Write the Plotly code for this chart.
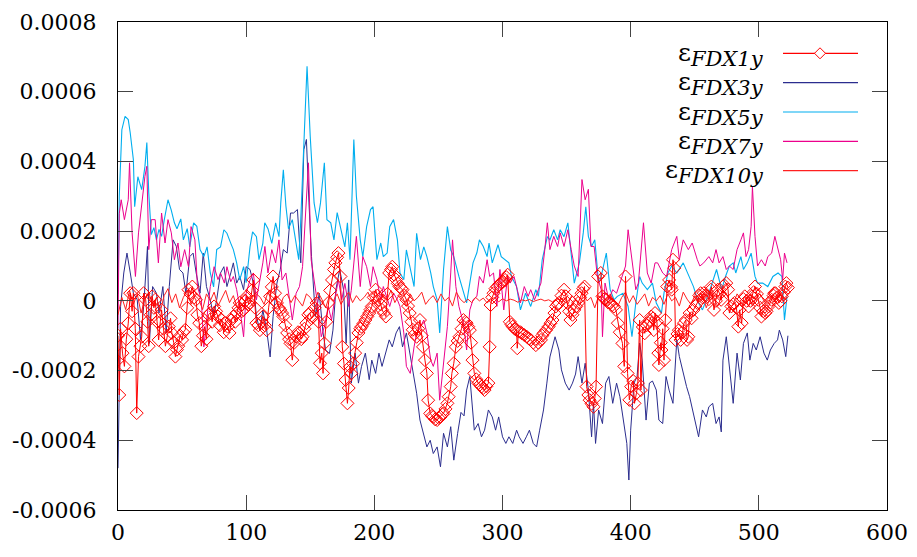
import plotly.graph_objects as go

# values in units of 1e-6 (x, strain*1e6)
FDX1Y = [(0,-100),(1,-270),(2,-80),(3.5,-150),(5,-188),(6.5,-110),(8,-64),(9.5,22),(11,-30),(12,22),(13.5,-80),(14.6,-322),
(16,-160),(17.5,-130),(18.5,-103),(20,22),(21.6,3),(23,-60),(24,-130),(25.5,-40),(26.7,13),(28,-20),(29,3),(30.5,-60),
(31.7,-112),(33,-60),(34,-26),(35.5,-80),(37,-130),(38.5,-100),(39.7,-74),(41,-50),(42,-92),(43.5,-120),(44.8,-160),
(46,-140),(47,-130),(48.5,-100),(50,-112),(51,-90),(52.5,-83),(54,-20),(55,32),(56.5,20),(58,41),(59.5,10),(60.8,3),
(62,-40),(63.4,-64),(65,-130),(66.3,-100),(67.6,-74),(69,-110),(70.5,-40),(72,-35),(73.5,-60),(75,-16),(76.5,-30),
(78,-45),(79.5,-70),(81,-55),(82.5,-90),(84,-64),(85.5,-74),(87,-92),(88.5,-55),(90,-45),(91.5,-60),(92.6,-35),(94,-20),
(95,-6),(96.5,-30),(98,-26),(99.5,0),(100.5,13),(102,-10),(103,-6),(104.5,30),(105.6,60),(107,-20),(108,-64),(109.5,-70),
(110.7,-84),(112,-60),(113,-45),(114.5,-70),(116,-84),(117.5,-20),(118.7,13),(120,40),(121,70),(122.5,22),(124,-6),
(125.5,-20),(126.6,-26),(128,-35),(129,-45),(130.5,-70),(132,-92),(133.5,-110),(134.6,-122),(136,-170),(137.5,-120),
(139,-103),(140.5,-90),(141.6,-92),(143,-110),(144,-103),(145.5,-80),(147,-64),(148.5,-40),(149.6,-35),(151,-50),
(152,-45),(153.5,-20),(155,-6),(156.5,-60),(157.6,-179),(159,-150),(160,-208),(161,-122),(162.5,-60),(164,-6),
(165.5,30),(167,60),(168.5,90),(169.6,109),(171,125),(172,137),(173.6,70),(175,-132),(176.3,-180),(177.6,-227),
(179,-294),(180,-250),(181,-189),(182,-208),(183.5,-180),(185,-150),(186.3,-120),(187.6,-92),(189,-80),(190,-74),
(191.5,-65),(193,-55),(194.5,-45),(196,-35),(197,-25),(198,-16),(199.5,10),(201,32),(202.3,15),(203.6,3),(205,-10),
(206,-26),(207.5,-35),(209,-45),(210.3,20),(211.6,80),(213,90),(214,98),(215.5,75),(217,61),(218.3,50),(219.6,41),
(221,35),(222,32),(223.5,15),(225,3),(226.3,-15),(227.6,-35),(229,-60),(230,-83),(231.5,-95),(233,-103),(234.3,-80),
(235.6,-55),(237,-100),(238,-132),(239.5,-170),(241,-208),(242,-285),(243.6,-323),(245,-330),(246,-333),(247.5,-340),
(249,-342),(250.3,-336),(251.6,-333),(253,-325),(254,-323),(255.5,-310),(257,-294),(258,-275),(259.6,-246),(260.5,-208),
(262,-179),(263.6,-132),(265,-115),(266.4,-103),(268,-80),(269.5,-55),(271,-60),(272,-64),(273.3,-74),(274.5,-84),
(275.5,-120),(276.6,-170),(278,-208),(279.5,-225),(281,-236),(282.5,-240),(283.6,-246),(285,-250),(286,-256),
(287.5,-245),(289,-236),(290,-132),(290.7,-12),(292,10),(293,22),(294.5,35),(296,41),(297.5,48),(299,51),(300.5,55),
(302,60),(303,68),(304,75),(305.7,-60),(307,-68),(308,-74),(309.5,-80),(311,-84),(311.5,-136),(312.5,-88),(314,-90),
(315,-93),(317,-98),(319,-103),(320.5,-108),(322,-112),(324,-120),(326,-127),(328,-120),(330,-112),(331,-100),(332,-93),
(334,-84),(336,-74),(337.5,-64),(339,-55),(340.5,-35),(341.7,-16),(343,-10),(344,-6),(346,15),(348,32),(349.5,13),
(350.6,-6),(352,-30),(353,-55),(354.6,-40),(356,-26),(357.5,-16),(359,-6),(360.5,10),(361.7,22),(363,35),(364,41),
(365.6,-246),(367,-270),(368,-285),(369.5,-295),(371,-304),(372,-280),(373,-246),(374.6,70),(376.7,80),(378,13),
(379.5,5),(381,3),(382.5,-5),(384,-6),(385.5,-12),(387,-16),(388.5,-26),(390,-64),(391.5,-90),(393.6,-122),(395,-188),
(396,70),(397.6,-208),(399,-284),(400.4,-246),(402,-230),(403,-294),(404.5,-265),(405.6,-236),(407,-55),(408,-256),
(409.5,-75),(411,-93),(412.5,-70),(413.6,-64),(415,-55),(416,-45),(417.5,-50),(418,-84),(419,-35),(420.5,-60),
(421.6,-150),(422,-184),(423.5,-120),(424,-141),(425,-80),(426,-170),(427,-55),(428.5,41),(430,60),(431.5,40),(432,32),
(433,118),(434,94),(435,-112),(436.5,-95),(437.6,-84),(439,-112),(440.5,-90),(441.6,-64),(443,-55),(444,-112),(445,-103),
(446,-35),(447.5,-50),(449,-26),(450.5,-15),(452,-6),(453.5,15),(454.6,22),(456,10),(457,22),(458.5,15),(460,13),(461,5),
(462.6,32),(463,41),(465,-26),(466.5,0),(468,32),(469.5,20),(470.6,3),(472,41),(473,45),(474.6,51),(476,32),(477,-35),
(478.6,-16),(480,-10),(481,-6),(482.5,-20),(484,-74),(485,-26),(486.6,-64),(488,5),(489,13),(490.5,0),(492,-16),
(493.5,0),(494.6,13),(496,25),(497,41),(498.5,20),(499.6,3),(501,-20),(502,-45),(503.5,-30),(505,-35),(506,-30),
(507.6,-16),(509,-5),(510,3),(511.5,15),(512,22),(513,22),(514.5,10),(515.6,-6),(517,0),(518,13),(519.5,25),
(520.7,41),(521.5,51),(522.7,38)]

FDX3Y = [(0,-480),(2,-17),(4.5,80),(7,137),(9.6,80),(12,22),(15,3),(17.6,-112),(20,-17),(23,156),(24.5,-122),(27,41),
(30,22),(32,-35),(35,41),(37.6,-92),(40,41),(43,175),(45.5,156),(48,90),(50.7,80),(53,22),(56,127),(58.6,137),(61,80),
(64,22),(66.5,137),(69,41),(72,3),(74.6,-45),(77,3),(80,80),(82.6,98),(85,41),(88,80),(90,109),(92.6,51),(95,70),
(98,32),(100,98),(103,90),(105.6,51),(108,-45),(110.7,-84),(113,-26),(116,-84),(118.7,-161),(121,-45),(124,51),
(126.6,90),(129,147),(132,137),(134.6,252),(137,252),(140,262),(142.6,109),(145,434),(147,463),(149,281),(151,127),
(154,-45),(157,22),(160,-92),(162,-141),(165,-151),(167.7,-84),(170,32),(173,90),(176,32),(178,-122),(180,60),
(182,-236),(185,-150),(187.6,-236),(190,-188),(193,-150),(196,-226),(198,-170),(201,-208),(203.6,-150),(206,-188),
(209,-150),(211.6,-112),(214,-132),(217,-92),(219.6,-74),(222,-132),(225,-92),(227.6,-150),(230,-208),(233,-265),
(235.6,-342),(238,-380),(241,-419),(243.6,-400),(246,-438),(249,-419),(251.6,-476),(254,-380),(257,-419),(259.6,-361),
(262,-457),(265,-380),(267.6,-320),(270,-330),(272,-256),(274.5,-217),(278,-371),(281,-352),(283.6,-390),(286,-371),
(289,-313),(292,-333),(294.6,-371),(297,-333),(300,-390),(302.6,-409),(305,-390),(308,-409),(311,-371),(313,-390),
(316,-409),(318.6,-390),(321,-371),(324,-409),(326.6,-419),(329,-371),(332,-313),(334.6,-236),(337,-161),(341,-103),
(344,-141),(346,-198),(349,-236),(352,-256),(354.6,-236),(357,-210),(359,-160),(362,-236),(364.5,-179),(367,-256),
(369.5,-390),(371,-294),(372.6,-409),(375,-313),(378,-352),(380.5,-236),(383,-217),(386,-294),(389,-236),(391.6,-275),
(394,-333),(397,-409),(398.6,-514),(400,-371),(402.6,-236),(405,-217),(407,-121),(409,-170),(412,-342),(414.6,-236),
(417,-230),(420,-256),(422,-342),(425,-352),(427.6,-217),(430,-256),(433,-294),(436,-112),(438,-160),(441,-208),
(443.6,-246),(446,-275),(449,-323),(451.7,-371),(453,-390),(456,-313),(459,-333),(461,-304),(464,-294),(466.6,-352),
(469,-333),(470.7,-376),(472,-170),(474.6,-103),(477.6,-217),(480,-294),(483,-150),(485.6,-227),(488,-122),(491,-92),
(493,-170),(495.6,-122),(498,-141),(501,-103),(504,-150),(506.6,-170),(509,-141),(512,-122),(514.6,-112),(516,-84),
(518.6,-112),(521,-160),(522.7,-100)]

FDX5Y = [(0,20),(1,300),(3,491),(5.5,529),(8,520),(9.5,483),(12,405),(13,270),(15.5,356),(18.5,319),(21,385),(22.5,454),
(24,310),(26,190),(28,210),(30,175),(32,205),(34,185),(36,230),(39,290),(41.5,261),(44,224),(46,207),(49,235),(51,175),
(54,207),(56,155),(59,224),(61.5,214),(64,147),(67,127),(69.5,155),(72,80),(74.6,40),(77,147),(80,155),(82.6,204),
(85,194),(88,165),(90,147),(92.6,109),(95,60),(98,98),(100,52),(103,155),(105,198),(108,184),(110,118),(113,165),
(114.5,224),(117,207),(120,165),(123,224),(125.6,184),(127,281),(129,376),(131,272),(133,207),(136,233),(138,184),
(141,118),(142.5,224),(145,454),(147.5,673),(150,471),(153,281),(155.6,224),(158,281),(161,396),(163,233),(166,224),
(168.5,175),(171,253),(174,207),(177,155),(179,224),(181,118),(184,463),(186,300),(189,175),(191,127),(194,213),
(197,262),(199,270),(202,118),(205,166),(207,127),(210,137),(212,213),(215,233),(218,175),(220,80),(223,61),(225,146),
(228,98),(231,41),(233,194),(236,118),(238.6,155),(241,127),(244,80),(246,41),(249,3),(251,-92),(254,90),(257,213),
(259.6,146),(262,127),(266,70),(270,20),(272,-6),(277,109),(280,138),(282,175),(285,156),(288,127),(289.5,166),
(292,109),(295,147),(296.5,161),(299,127),(302,118),(305,109),(307,70),(311,41),(314,-26),(318,22),(322,-16),(326,32),
(328,13),(331,118),(335,184),(337,175),(340,204),(343,175),(345,204),(348,184),(351,224),(354,109),(356,51),(360,110),
(363,195),(365,270),(367,185),(369.5,156),(372,175),(375,51),(377,70),(381,137),(384,32),(387,3),(389.6,13),(394,22),
(398,-16),(401,-103),(404,-6),(407,70),(409,51),(413,32),(417,51),(420,-6),(424,-35),(426,22),(429,80),(432,100),
(436,80),(441,109),(446,65),(449,41),(453,-6),(456,-26),(461,22),(465,70),(467,90),(471,32),(474,70),(477,100),
(480,109),(482,80),(486,127),(488,90),(491,109),(494,137),(497,70),(499,51),(503,51),(507,41),(511,70),(515,80),
(518,70),(520,-55),(522,13)]

FDX7Y = [(0,-80),(1,250),(2.5,290),(5,233),(8,290),(9,396),(11,195),(13.6,70),(16,195),(19,300),(21,357),(22.5,386),
(24,147),(26,233),(29,233),(31.5,109),(34,252),(36.7,166),(39,233),(41.6,195),(44,118),(46.8,166),(49,98),(52,147),
(55,98),(57,213),(60,175),(62,41),(65,3),(67,-132),(70,-35),(72,41),(75,98),(78,61),(80,80),(83,51),(85,98),(88,55),
(90,70),(92.6,32),(95,-20),(98,-103),(100,22),(103,60),(105.6,80),(108,3),(110.7,60),(113,109),(114.6,156),(117,80),
(120,147),(123,109),(125.6,175),(128,60),(131,80),(134,3),(136,-55),(139,22),(141.6,41),(144,98),(147,300),(148.6,396),
(150.7,118),(153,60),(156,-16),(158.6,-103),(161,-74),(164,-16),(166.6,-55),(169,3),(172,60),(174.6,3),(177,50),
(180,-16),(182,30),(186,185),(189,41),(191,127),(194,98),(197,41),(199,98),(202,61),(205,3),(207,41),(210,3),(212,-16),
(215,22),(218,3),(220,-16),(223,-92),(225,-188),(228,-208),(231,-132),(233,-92),(236,-74),(238.6,-55),(241,-92),
(244,-170),(246,-188),(249,-150),(251,-285),(254,-188),(257,-74),(259.6,80),(261,175),(263.6,41),(266,-16),(269.5,-64),
(272,-141),(274.5,-26),(277,3),(280,13),(282,70),(285,51),(288,118),(290,70),(293,80),(295.6,-16),(298,90),(301,-26),
(304,70),(306,51),(309,70),(311.5,32),(314,-6),(317,41),(320,13),(322,32),(325,3),(328,32),(330,51),(333,147),(335,224),
(337,147),(340,185),(343,156),(345,195),(348,156),(351,204),(353.6,147),(356,100),(359,70),(362,348),(364.5,290),
(367,320),(369,156),(371.5,156),(374,70),(377,32),(378,-103),(380,51),(383,3),(386,32),(389,22),(393,70),(396,100),
(398,204),(401,109),(404,32),(406,51),(410,224),(413,80),(416,51),(419,109),(421,109),(425,80),(428,70),(432,147),
(436,185),(438,118),(441,175),(445,147),(448,166),(452,118),(454,100),(457,109),(461,127),(464,109),(466.6,147),
(469,109),(472,127),(474.6,90),(477,100),(480,90),(483,147),(486,175),(488,195),(490,127),(492,147),(494,214),(495,328),
(497,185),(499,100),(502,118),(505,100),(507,127),(510,137),(512.5,185),(515,147),(517,118),(518.6,60),(520,137),
(522,109)]

FDX10Y_X = list(range(0, 523, 3))
FDX10Y_V = [-40,10,-25,30,-10,20,-35,5,25,-15,10,-30,15,35,-5,20,-20,10,30,-10,15,5,-25,20,0,25,-15,10,30,-5,15,-20,10,20,
5,-15,20,10,-10,25,0,15,-20,10,20,-5,15,0,-15,20,10,-10,25,5,-20,15,0,20,-10,10,25,-5,15,0,
10,25,0,15,-10,20,5,30,-5,15,10,-15,20,0,10,25,-10,5,15,-5,20,0,10,-15,25,5,-5,
5,-5,10,0,8,-6,4,10,-3,6,0,5,2,-4,3,0,4,-2,2,5,0,3,-3,6,2,
10,-10,15,5,-15,20,0,10,-20,15,5,-10,20,0,-15,10,25,-5,15,-10,5,20,-15,10,0,
15,-10,20,0,10,-15,25,5,-10,15,0,20,-20,10,5,-15,15,25,0,-10,20,5,-5,15,-15,10,20,0,-10,15,5,25,0,10]

UNIT = 1e-6
Y_TICKS = [-0.0006, -0.0004, -0.0002, 0, 0.0002, 0.0004, 0.0006, 0.0008]
Y_TICKTEXT = ["-0.0006", "-0.0004", "-0.0002", "0", "0.0002", "0.0004", "0.0006", "0.0008"]
X_TICKS = [0, 100, 200, 300, 400, 500, 600]

LABELS = ["FDX1y", "FDX3y", "FDX5y", "FDX7y", "FDX10y"]
C_RED = "#ff0000"
C_BLUE = "#2b2d8e"
C_CYAN = "#00aeef"
C_MAG = "#ec008c"
C_RED2 = "#ff2020"

def unzip(pts):
    xs = [p[0] for p in pts]
    ys = [p[1] * UNIT for p in pts]
    return xs, ys

fig = go.Figure()
x3, y3 = unzip(FDX3Y)
fig.add_trace(go.Scatter(x=x3, y=y3, mode="lines", line=dict(color=C_BLUE, width=1), showlegend=False))
x5, y5 = unzip(FDX5Y)
fig.add_trace(go.Scatter(x=x5, y=y5, mode="lines", line=dict(color=C_CYAN, width=1.1), showlegend=False))
x7, y7 = unzip(FDX7Y)
fig.add_trace(go.Scatter(x=x7, y=y7, mode="lines", line=dict(color=C_MAG, width=1), showlegend=False))
fig.add_trace(go.Scatter(x=FDX10Y_X, y=[v * UNIT for v in FDX10Y_V], mode="lines",
                         line=dict(color=C_RED2, width=1), showlegend=False))
x1, y1 = unzip(FDX1Y)
fig.add_trace(go.Scatter(x=x1, y=y1, mode="lines+markers", line=dict(color=C_RED, width=1),
                         marker=dict(symbol="diamond-open", size=10, color=C_RED, line=dict(width=1, color=C_RED)),
                         showlegend=False))

L, R, T, B = 118, 887, 22, 510
def px(xp):
    return (xp - L) / (R - L)
def py(yp):
    return (B - yp) / (B - T)

FONT = "DejaVu Serif, Liberation Serif, serif"
colors = [C_RED, C_BLUE, C_CYAN, C_MAG, C_RED2]
rows = [53.3, 82.7, 112.0, 141.3, 170.7]
shapes = []
annotations = []
for lab, col, ry in zip(LABELS, colors, rows):
    annotations.append(dict(xref="paper", yref="paper", x=px(766), y=py(ry + 1), xanchor="right", yanchor="middle",
                            text="ε<sub><span style='font-size:21px'><i>" + lab + "</i></span></sub>", showarrow=False,
                            font=dict(family=FONT, size=25, color="black")))
    shapes.append(dict(type="line", xref="paper", yref="paper", x0=px(783), x1=px(858), y0=py(ry), y1=py(ry),
                       line=dict(color=col, width=1.2)))
# diamond sample for first entry
cx, cy, h = 820, rows[0], 5.5
path = "M {} {} L {} {} L {} {} L {} {} Z".format(px(cx - h), py(cy), px(cx), py(cy - h), px(cx + h), py(cy), px(cx), py(cy + h))
shapes.append(dict(type="path", xref="paper", yref="paper", path=path, line=dict(color=C_RED, width=1), fillcolor="white"))

fig.update_layout(
    width=917, height=557,
    margin=dict(l=L, r=917 - R, t=T, b=557 - B, autoexpand=False),
    paper_bgcolor="white", plot_bgcolor="white",
    font=dict(family=FONT, size=22, color="black"),
    shapes=shapes, annotations=annotations, showlegend=False,
)
fig.update_xaxes(range=[0, 600], tickvals=X_TICKS, ticktext=[str(v) for v in X_TICKS],
                 ticks="inside", ticklen=15, tickcolor="#444", tickwidth=1, automargin=False,
                 showline=True, linecolor="black", linewidth=1.2, mirror="allticks",
                 showgrid=False, zeroline=False, ticklabelstandoff=2,
                 tickfont=dict(family=FONT, size=22, color="black"))
fig.update_yaxes(range=[-0.0006, 0.0008], tickvals=Y_TICKS, ticktext=Y_TICKTEXT,
                 ticks="inside", ticklen=15, tickcolor="#444", tickwidth=1, automargin=False,
                 showline=True, linecolor="black", linewidth=1.2, mirror="allticks",
                 showgrid=False, zeroline=False, ticklabelstandoff=16,
                 tickfont=dict(family=FONT, size=22, color="black"))

fig.write_html("out.html")
